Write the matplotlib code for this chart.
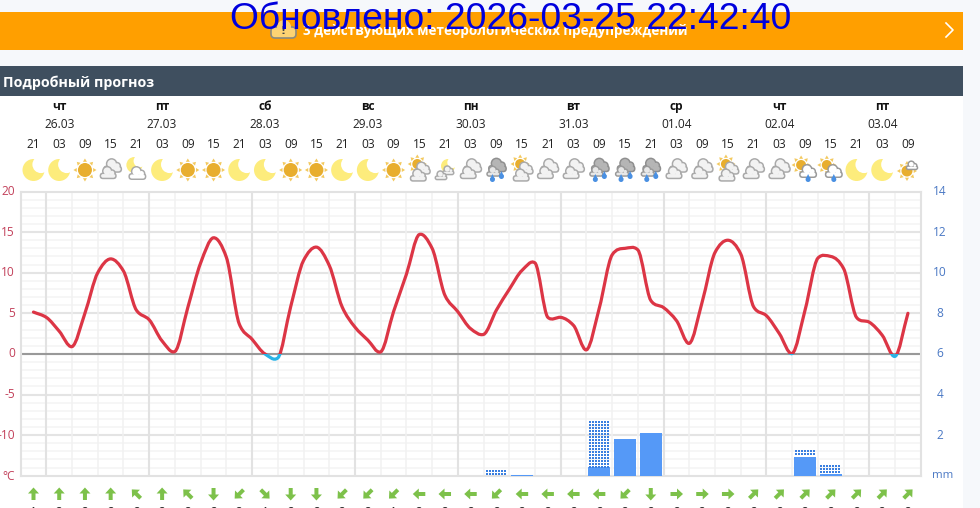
import numpy as np
import matplotlib
matplotlib.use("Agg")
import matplotlib.pyplot as plt
from matplotlib.path import Path
from matplotlib.patches import PathPatch, Rectangle, Circle, Polygon, FancyBboxPatch

days = ["чт", "пт", "сб", "вс", "пн", "вт", "ср", "чт", "пт"]
dates = ["26.03", "27.03", "28.03", "29.03", "30.03", "31.03", "01.04", "02.04", "03.04"]
day_idx = [1, 5, 9, 13, 17, 21, 25, 29, 33]
hours = ["21", "03", "09", "15"] * 8 + ["21", "03", "09"]
temps = [5.15, 4.5, 2.8, 0.9, 5.0, 10.0, 11.7, 10.2, 5.4, 4.2, 1.6, 0.3, 5.7, 11.2, 14.3, 11.9,
         3.7, 1.8, 0.0, -0.5, 5.8, 11.5, 13.15, 10.9, 5.8, 3.3, 1.7, 0.25, 5.2, 9.8, 14.7, 13.0,
         7.2, 5.2, 3.1, 2.4, 5.4, 7.95, 10.3, 11.2, 4.5, 4.5, 3.5, 0.5, 5.65, 12.2, 13.0, 12.8,
         6.6, 5.7, 4.1, 1.3, 6.4, 12.5, 14.0, 12.3, 5.8, 4.7, 2.5, 0.05, 5.4, 11.8, 12.0, 10.5,
         4.5, 3.9, 2.3, -0.3, 5.0]
rain_idx = [18, 19, 22, 23, 24, 30, 31]
rain_solid = [0.0, 0.05, 0.44, 1.8, 2.08, 0.92, 0.1]
rain_dotted = [0.3, 0.0, 2.3, 0.0, 0.0, 0.35, 0.45]
left_ticks = [20, 15, 10, 5, 0, -5, -10]
right_ticks = [14, 12, 10, 8, 6, 4, 2]
icons = ["moon", "moon", "sun", "cloud", "mooncloud", "moon", "sun", "sun", "moon", "moon", "sun", "sun",
         "moon", "moon", "sun", "suncloud", "mooncloud2", "cloud", "rain", "suncloud", "cloud", "cloud",
         "rain", "rain", "rain", "cloud", "cloud", "suncloud", "cloud", "cloud", "sunrain", "sunrain",
         "moon", "moon", "sunsmall"]
wind_dir = [0, 0, 0, 0, -45, 0, -45, 180, -135, 135, 180, 180, -135, -135, -135, -90, -90, -90,
            -135, -90, -90, -90, -90, -135, 180, 90, 90, 90, 45, 45, 45, 45, 45, 45, 45]
wind_speed = [1, 2, 2, 2, 2, 2, 2, 2, 2, 1, 2, 2, 2, 2, 1, 2, 2, 2, 2, 2, 2, 2, 2, 2, 2, 2, 2, 2, 2, 2, 2, 2, 2, 2, 2]

FONT = ["Open Sans", "DejaVu Sans"]
fig = plt.figure(figsize=(9.8, 5.08), dpi=100, facecolor="#f6f8fb")

ov = fig.add_axes([0, 0, 1, 1], zorder=0)
ov.set_xlim(0, 980); ov.set_ylim(508, 0); ov.axis("off")
ov.add_patch(Rectangle((0, 96), 963, 412, fc="white", ec="none"))
ov.add_patch(Rectangle((0, 12), 963, 38, fc="#ff9f00", ec="none"))
ov.add_patch(Rectangle((0, 66), 963, 30, fc="#3f4f5f", ec="none"))
ov.text(3, 82.5, "Подробный прогноз", color="white", fontsize=10.3, fontweight="bold", family=FONT, va="center")
ov.text(303, 31, "3 действующих метеорологических предупреждений", color="white", fontsize=9.75,
        fontweight="bold", family=FONT, va="center")
ov.add_patch(FancyBboxPatch((271, 27), 25, 11, boxstyle="round,pad=0,rounding_size=4", fc="#fdd373", ec="#8a8a80", lw=1.2))
ov.add_patch(Circle((284, 27), 7, fc="#fdd373", ec="none"))
ov.text(283, 31, "!", color="#444", fontsize=8, fontweight="bold", ha="center", va="center", family="DejaVu Sans")
ov.plot([946, 953, 946], [23, 30, 37], color="white", lw=1.2)
ov.text(511, 19.5, "Обновлено: 2026-03-25 22:42:40", color="#0000dd", fontsize=26.8,
        family="Liberation Sans", ha="center", va="center", zorder=10)

def px(i):
    return 33.5 + 25.72 * i

for name, date, i in zip(days, dates, day_idx):
    ov.text(px(i), 106.5, name, fontsize=8.6, fontweight="bold", family=FONT, ha="center", va="center", color="#111")
    ov.text(px(i), 124.5, date, fontsize=8.6, family=FONT, ha="center", va="center", color="#222")
for i, h in enumerate(hours):
    ov.text(px(i), 144.5, h, fontsize=8.6, family=FONT, ha="center", va="center", color="#222")

def moon(cx, cy, r=11):
    ov.add_patch(Circle((cx, cy), r, fc="#fdec7c", ec="none"))
    ov.add_patch(Circle((cx + r * 0.68, cy - r * 0.5), r * 0.78, fc="white", ec="none"))

def sun(cx, cy, r=7):
    for a in np.arange(0, 360, 45):
        t = np.radians(a)
        u = np.array([np.cos(t), np.sin(t)]); v = np.array([-u[1], u[0]])
        c = np.array([cx, cy])
        ov.add_patch(Polygon([c + u * (r + 4.5), c + u * (r + 1.2) + v * 2, c + u * (r + 1.2) - v * 2],
                             fc="#f3c95e", ec="none"))
    ov.add_patch(Circle((cx, cy), r, fc="#e8ae2e", ec="none"))

def cloud(cx, cy, s=1.0, fill="#f2f2f2", edge="#a9a9a9"):
    boxes = [(-9, -1, 18, 7, 3.5)]
    circles = [(-1, -2.5, 5.5), (4, -0.5, 4)]
    for dx, dy, r in circles:
        ov.add_patch(Circle((cx + dx * s, cy + dy * s), r * s, fc=edge, ec="none"))
    for x0, y0, w, h, rs in boxes:
        ov.add_patch(FancyBboxPatch((cx + x0 * s, cy + y0 * s), w * s, h * s,
                                    boxstyle=f"round,pad=0,rounding_size={rs * s}", fc=edge, ec="none"))
    d = 1.5
    for dx, dy, r in circles:
        ov.add_patch(Circle((cx + dx * s, cy + dy * s), max(r * s - d, 0.5), fc=fill, ec="none"))
    for x0, y0, w, h, rs in boxes:
        ov.add_patch(FancyBboxPatch((cx + x0 * s + d, cy + y0 * s + d), w * s - 2 * d, h * s - 2 * d,
                                    boxstyle=f"round,pad=0,rounding_size={max(rs * s - d, 0.3)}", fc=fill, ec="none"))

def dclouds(cx, cy, fill="#f2f2f2", edge="#a9a9a9"):
    cloud(cx + 2, cy - 3.5, 1.05, fill, edge)
    cloud(cx - 2.5, cy + 3.5, 0.95, fill, edge)

def drop(cx, cy):
    ov.add_patch(Polygon([(cx, cy - 5), (cx - 2.4, cy), (cx + 2.4, cy)], fc="#4a90e2", ec="none"))
    ov.add_patch(Circle((cx, cy + 0.5), 2.5, fc="#4a90e2", ec="none"))

for i, ic in enumerate(icons):
    cx, cy = px(i), 170
    if ic == "moon":
        moon(cx, cy)
    elif ic == "sun":
        sun(cx, cy)
    elif ic == "cloud":
        dclouds(cx, cy)
    elif ic == "mooncloud":
        moon(cx - 2, cy - 5, 8)
        cloud(cx + 1, cy + 4, 1.0, "white", "#a9a9a9")
    elif ic == "mooncloud2":
        moon(cx + 3, cy - 4, 7)
        cloud(cx + 3, cy + 1, 0.72)
        cloud(cx - 4, cy + 6, 0.72)
    elif ic == "suncloud":
        sun(cx - 2, cy - 6, 5)
        cloud(cx + 3, cy - 1, 0.95)
        cloud(cx - 1, cy + 6, 0.95)
    elif ic == "rain":
        cloud(cx + 1, cy - 4, 1.05, "#b5b5b5", "#8f8f8f")
        cloud(cx - 3, cy + 2, 0.8, "#e8e8e8", "#9a9a9a")
        drop(cx - 4, cy + 9); drop(cx + 5, cy + 6)
    elif ic == "sunrain":
        sun(cx - 4, cy - 5, 5)
        cloud(cx + 3, cy + 2, 1.0, "white", "#9a9a9a")
        drop(cx + 3, cy + 9)
    elif ic == "sunsmall":
        sun(cx - 1, cy + 1, 5.5)
        cloud(cx + 4, cy - 4, 0.7, "white", "#9a9a9a")

base_arrow = np.array([[0, -6.5], [5.5, -0.5], [2, -0.5], [2, 6], [-2, 6], [-2, -0.5], [-5.5, -0.5]])
for i, (ang, sp) in enumerate(zip(wind_dir, wind_speed)):
    t = np.radians(ang)
    rot = np.array([[np.cos(t), -np.sin(t)], [np.sin(t), np.cos(t)]])
    pts = base_arrow @ rot.T + [px(i), 494]
    ov.add_patch(Polygon(pts, fc="#7dc14a", ec="none"))
    ov.text(px(i), 513, str(sp), fontsize=8.6, family=FONT, ha="center", va="center", color="#222", clip_on=True)

L, R, T, B = 20.6, 920.8, 191.5, 475.7
ax = fig.add_axes([L / 980, 1 - B / 508, (R - L) / 980, (B - T) / 508], zorder=1)
ax.patch.set_alpha(0)
ax.set_xlim(-0.5, 34.5); ax.set_ylim(-15, 20)
for s in ax.spines.values():
    s.set_color("#e2e2e2"); s.set_linewidth(1.5)
ax.set_xticks([]); ax.set_yticks([])
for y in np.arange(-14, 20):
    ax.axhline(y, color="#e4e4e4" if y % 5 == 0 else "#f4f4f4", lw=1.5 if y % 5 == 0 else 1.1, zorder=1)
for v in np.arange(0.5, 34.5):
    major = (v - 0.5) % 4 == 0
    ax.axvline(v, color="#e2e2e2" if major else "#f1f1f1", lw=1.5 if major else 1.1, zorder=1)
ax.axhline(0, color="#999999", lw=1.5, zorder=2)

for lab in left_ticks:
    ov.text(15, B - (lab + 15) * (B - T) / 35, str(lab), color="#c2405a", fontsize=8.6, family=FONT, ha="right", va="center")
ov.text(15, 476, "°C", color="#c2405a", fontsize=8.6, family=FONT, ha="right", va="center")
for v in right_ticks:
    ov.text(940, B - v * (B - T) / 14, str(v), color="#4a78c4", fontsize=8.6, family=FONT, ha="center", va="center")
ov.text(943, 476, "mm", color="#4a78c4", fontsize=8.2, family=FONT, ha="center", va="center")

ax2 = ax.twinx()
ax2.set_ylim(0, 14); ax2.set_yticks([])
ax2.patch.set_alpha(0)
for s in ax2.spines.values():
    s.set_visible(False)
ax2.bar(rain_idx, rain_solid, width=0.86, color="#5599f7", zorder=3)
dx_step = 3 / ((R - L) / 35)
dy_step = 3 / ((B - T) / 14)
for idx, s, d in zip(rain_idx, rain_solid, rain_dotted):
    if d <= 0:
        continue
    xs = np.arange(idx - 0.43 + dx_step / 2, idx + 0.43, dx_step)
    ys = np.arange(s + d - dy_step / 2, s, -dy_step)
    gx, gy = np.meshgrid(xs, ys)
    ax2.scatter(gx.ravel(), gy.ravel(), s=0.8, marker="s", color="#3a7fe0", linewidths=0, zorder=3)

tx = np.arange(len(temps)) / 2.0
ty = np.array(temps)
slopes = np.diff(ty)
tang = np.zeros_like(ty)
tang[0] = slopes[0]; tang[-1] = slopes[-1]
for k in range(1, len(ty) - 1):
    a, b = slopes[k - 1], slopes[k]
    cr = (a + b) / 2
    hm = 2 * a * b / (a + b) if a * b > 0 else 0.0
    tang[k] = 0.45 * cr + 0.55 * hm
verts = [(tx[0], ty[0])]
codes = [Path.MOVETO]
for k in range(len(tx) - 1):
    h = tx[k + 1] - tx[k]
    verts += [(tx[k] + h / 3, ty[k] + tang[k] / 3), (tx[k + 1] - h / 3, ty[k + 1] - tang[k + 1] / 3), (tx[k + 1], ty[k + 1])]
    codes += [Path.CURVE4] * 3
curve = Path(verts, codes)
for color, lo, hi in [("#dc3545", 0, 20), ("#29b3e6", -15, 0)]:
    patch = PathPatch(curve, fc="none", ec=color, lw=2.3, zorder=5, capstyle="round", transform=ax.transData)
    ax2.add_patch(patch)
    patch.set_clip_path(Rectangle((-0.5, lo), 35, hi - lo, transform=ax.transData))

fig.savefig("out.png", dpi=100, facecolor=fig.get_facecolor())
